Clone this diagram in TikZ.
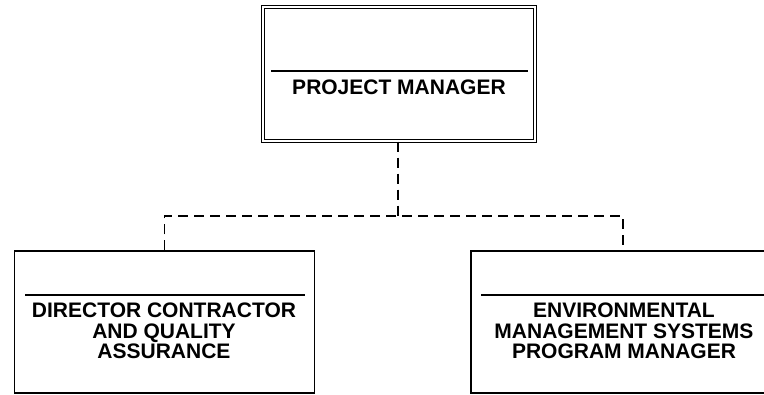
\documentclass[tikz,border=0pt]{standalone}
\usepackage{fontspec}
\setmainfont{Liberation Sans}
\begin{document}
\begin{tikzpicture}[x=1pt,y=-1pt,
  box/.style={draw, line width=1.4pt, minimum height=142pt, inner sep=0pt},
  topbox/.style={draw, line width=1.3pt, double, double distance=2.2pt, minimum width=272pt, minimum height=134pt, inner sep=0pt},
  rule/.style={line width=1.4pt},
  conn/.style={line width=1.4pt, dash pattern=on 10pt off 6pt},
  label/.style={font=\bfseries\fontsize{21}{20.5}\selectfont, align=center, inner sep=0pt}]
\useasboundingbox (0,0) rectangle (764,395);
\node[topbox] (pm) at (399,74) {};
\node[box, minimum width=300pt] (dc) at (164.5,322) {};
\node[box, minimum width=304pt] (em) at (623,322) {};
\draw[rule] (271,71) -- (528,71);
\draw[rule] (25,295) -- (305,295);
\draw[rule] (481,295) -- (772,295);
\node[label, anchor=base] (pmt) at (399,95) {PROJECT MANAGER};
\node[label] (dct) at (164,331) {DIRECTOR CONTRACTOR\\AND QUALITY\\ASSURANCE};
\node[label] (emt) at (624,331) {ENVIRONMENTAL\\MANAGEMENT SYSTEMS\\PROGRAM MANAGER};
\coordinate (j) at (398,216);
\draw[conn] (pm.south -| j) -- (j);
\draw[conn] (dc.north) |- (j) -| (em.north);
\end{tikzpicture}
\end{document}
